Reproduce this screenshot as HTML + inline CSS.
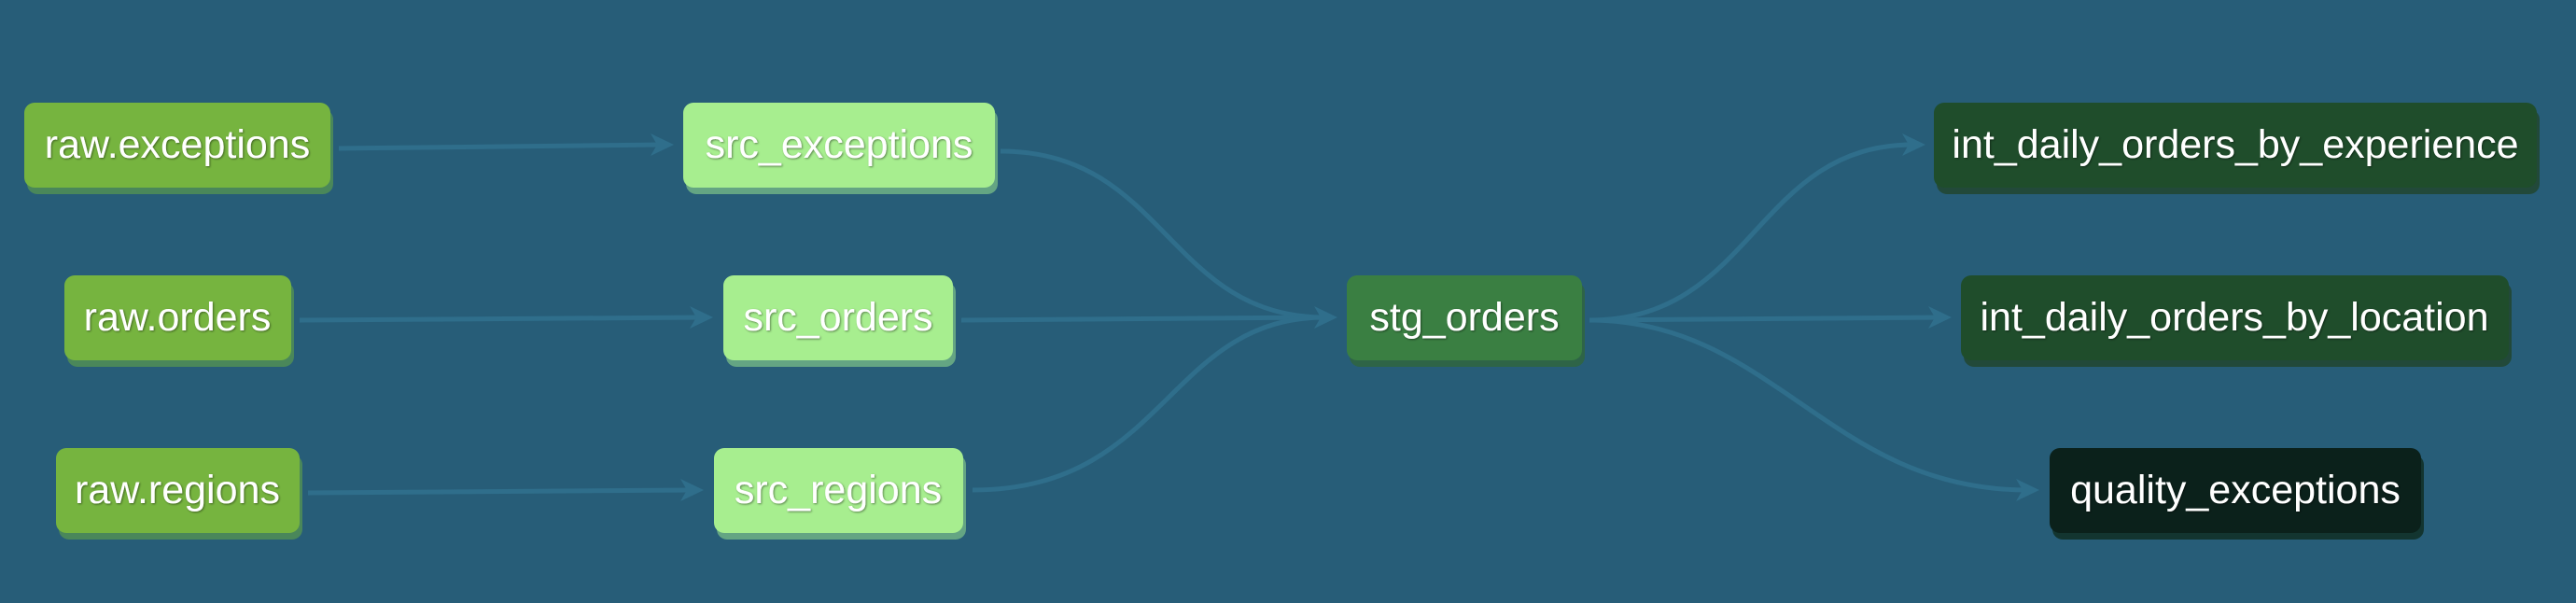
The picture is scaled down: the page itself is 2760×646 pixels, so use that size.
<!DOCTYPE html>
<html><head><meta charset="utf-8"><style>
html,body{margin:0;padding:0;background:#275d78;}
svg{display:block}
text{font-family:"Liberation Sans",Arial,sans-serif;font-size:43px;fill:#fff;text-anchor:middle;dominant-baseline:central;}
</style></head><body>
<svg width="2760" height="646" viewBox="0 0 2760 646" xmlns="http://www.w3.org/2000/svg">
<defs>
<filter id="ts" x="-10%" y="-30%" width="120%" height="160%"><feDropShadow dx="1" dy="1" stdDeviation="1" flood-color="#000" flood-opacity="0.45"/></filter>
</defs>
<rect width="2760" height="646" fill="#275d78"/>
<g fill="none" stroke="#2f6e8b" stroke-width="5">
<path d="M363 159 L710 155"/>
<path d="M321 343 L752 340"/>
<path d="M330 528 L742 525"/>
<path d="M1072 162 C1250 162 1250 340 1420 340"/>
<path d="M1030 343 L1420 340"/>
<path d="M1042 525 C1250 525 1250 340 1420 340"/>
<path d="M1703 343 C1880 343 1880 155 2050 155"/>
<path d="M1703 343 L2078 340"/>
<path d="M1703 343 C1900 343 1960 525 2172 525"/>
</g>
<g fill="#2f6e8b">
<path d="M722 155 l-25 -12 l7 12 l-7 12z"/>
<path d="M764 340 l-25 -12 l7 12 l-7 12z"/>
<path d="M754 525 l-25 -12 l7 12 l-7 12z"/>
<path d="M1433 340 l-25 -12 l7 12 l-7 12z"/>
<path d="M2063 155 l-25 -12 l7 12 l-7 12z"/>
<path d="M2091 340 l-25 -12 l7 12 l-7 12z"/>
<path d="M2185 525 l-25 -12 l7 12 l-7 12z"/>
</g>
<g>
<rect x="29" y="117" width="328" height="91" rx="11" fill="#4a875a"/>
<rect x="735" y="117" width="334" height="91" rx="11" fill="#64a583"/>
<rect x="72" y="302" width="243" height="91" rx="11" fill="#4a875a"/>
<rect x="778" y="302" width="246" height="91" rx="11" fill="#64a583"/>
<rect x="63" y="487" width="261" height="91" rx="11" fill="#4a875a"/>
<rect x="768" y="487" width="267" height="91" rx="11" fill="#64a583"/>
<rect x="1446" y="302" width="252" height="91" rx="11" fill="#2e6447"/>
<rect x="2075" y="117" width="646" height="91" rx="11" fill="#22493a"/>
<rect x="2104" y="302" width="587" height="91" rx="11" fill="#22493a"/>
<rect x="2199" y="487" width="398" height="91" rx="11" fill="#133530"/>
</g>
<g>
<rect x="26" y="110" width="328" height="91" rx="11" fill="#76b43f"/>
<rect x="732" y="110" width="334" height="91" rx="11" fill="#a7ee8f"/>
<rect x="69" y="295" width="243" height="91" rx="11" fill="#76b43f"/>
<rect x="775" y="295" width="246" height="91" rx="11" fill="#a7ee8f"/>
<rect x="60" y="480" width="261" height="91" rx="11" fill="#76b43f"/>
<rect x="765" y="480" width="267" height="91" rx="11" fill="#a7ee8f"/>
<rect x="1443" y="295" width="252" height="91" rx="11" fill="#3a7f42"/>
<rect x="2072" y="110" width="646" height="91" rx="11" fill="#1f4d2b"/>
<rect x="2101" y="295" width="587" height="91" rx="11" fill="#1f4d2b"/>
<rect x="2196" y="480" width="398" height="91" rx="11" fill="#0b211b"/>
</g>
<g filter="url(#ts)">
<text x="190" y="155">raw.exceptions</text>
<text x="899" y="155">src_exceptions</text>
<text x="190" y="340">raw.orders</text>
<text x="898" y="340">src_orders</text>
<text x="190" y="525">raw.regions</text>
<text x="898" y="525">src_regions</text>
<text x="1569" y="340">stg_orders</text>
<text x="2395" y="155">int_daily_orders_by_experience</text>
<text x="2394" y="340">int_daily_orders_by_location</text>
<text x="2395" y="525">quality_exceptions</text>
</g>
</svg>
</body></html>
